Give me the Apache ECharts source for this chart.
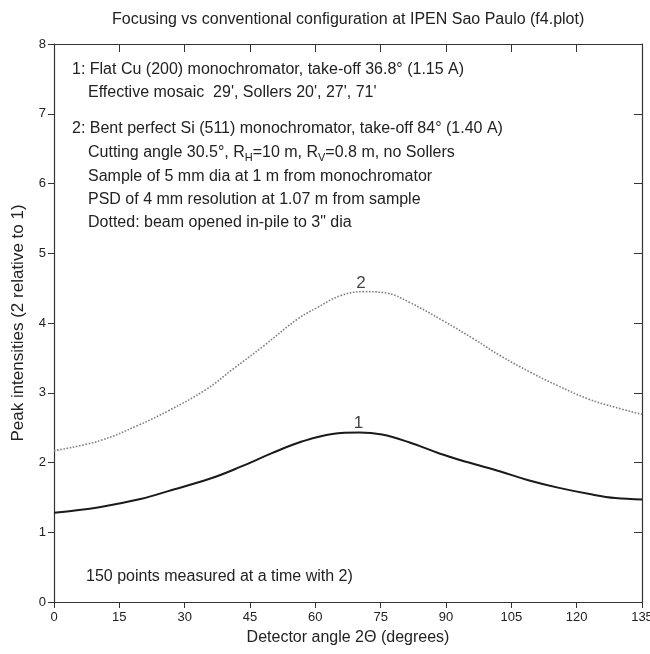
<!DOCTYPE html>
<html>
<head>
<meta charset="utf-8">
<script src="https://cdn.jsdelivr.net/npm/echarts@6/dist/echarts.min.js"></script>
<style>html,body{margin:0;padding:0;background:#fff}#c{width:650px;height:654px}</style>
</head>
<body>
<div id="c"></div>
<script>
// Curve 1: flat Cu (200), conventional (solid)
const angle1 = [0, 10.4, 20.1, 26.2, 35.9, 42.9, 49.9, 56.9, 63.9, 70.1, 75.3, 81.5, 88.5, 94.6, 102.5, 108.7, 115.7, 123.6, 128.9, 135];
const intensity1 = [1.28, 1.36, 1.48, 1.59, 1.77, 1.94, 2.13, 2.30, 2.41, 2.43, 2.40, 2.29, 2.13, 2.01, 1.87, 1.75, 1.64, 1.54, 1.49, 1.47];
// Curve 2: bent perfect Si (511), focusing (dotted)
const angle2 = [0, 10.4, 19.2, 26.2, 35.0, 41.1, 48.1, 56.0, 60.4, 65.7, 71.0, 76.3, 81.5, 89.4, 96.4, 102.5, 109.5, 115.7, 122.7, 128.9, 135];
const intensity2 = [2.17, 2.31, 2.53, 2.74, 3.05, 3.34, 3.67, 4.06, 4.22, 4.39, 4.45, 4.43, 4.30, 4.03, 3.77, 3.53, 3.29, 3.10, 2.91, 2.79, 2.69];
// Curve labels
const curveLabelText = ['1', '2'];
const curveLabelX = [69.9, 70.5];
const curveLabelY = [2.56, 4.57];
// Axis ticks
const xTicks = [0, 15, 30, 45, 60, 75, 90, 105, 120, 135];
const yTicks = [0, 1, 2, 3, 4, 5, 6, 7, 8];

const FONT = '"Liberation Sans Narrow", "Liberation Sans", Arial, sans-serif';
const TXT = '#222';
const pair = (xs, ys) => xs.map((x, i) => [x, ys[i]]);

const chart = echarts.init(document.getElementById('c'));
const gridL = 54, gridT = 44, gridR = 8, gridB = 52;

const noteLines = [
  {x: 72, y: 70, t: '1: Flat Cu (200) monochromator, take-off 36.8° (1.15 A)'},
  {x: 88, y: 93, t: "Effective mosaic  29', Sollers 20', 27', 71'"},
  {x: 72, y: 129, t: '2: Bent perfect Si (511) monochromator, take-off 84° (1.40 A)'},
  {x: 88, y: 153, t: 'Cutting angle 30.5°, R{s|H}=10 m, R{s|V}=0.8 m, no Sollers'},
  {x: 88, y: 177, t: 'Sample of 5 mm dia at 1 m from monochromator'},
  {x: 88, y: 200, t: 'PSD of 4 mm resolution at 1.07 m from sample'},
  {x: 88, y: 223, t: 'Dotted: beam opened in-pile to 3" dia'},
  {x: 86, y: 577, t: '150 points measured at a time with 2)'}
];

chart.setOption({
  backgroundColor: '#fff',
  animation: false,
  grid: {left: gridL, top: gridT, right: gridR, bottom: gridB, containLabel: false, outerBoundsMode: 'none'},
  xAxis: [{
    type: 'value', min: 0, max: 135, interval: 15,
    name: 'Detector angle 2\u0398 (degrees)', nameLocation: 'middle', nameGap: 28,
    nameTextStyle: {fontFamily: FONT, fontSize: 16, color: TXT},
    axisLine: {show: true, onZero: false, lineStyle: {color: '#333', width: 1.2}},
    axisTick: {show: true, inside: false, length: 6, lineStyle: {color: '#333'}},
    axisLabel: {fontFamily: FONT, fontSize: 13, color: TXT, margin: 9, hideOverlap: false},
    splitLine: {show: false}
  }, {
    type: 'value', position: 'top', min: 0, max: 135, interval: 15,
    axisLine: {show: true, onZero: false, lineStyle: {color: '#333', width: 1.2}},
    axisTick: {show: true, inside: true, length: 8, lineStyle: {color: '#333'}},
    axisLabel: {show: false}, splitLine: {show: false}
  }],
  yAxis: [{
    type: 'value', min: 0, max: 8, interval: 1,
    name: 'Peak intensities (2 relative to 1)', nameLocation: 'middle', nameGap: 27,
    nameTextStyle: {fontFamily: FONT, fontSize: 17, color: TXT},
    axisLine: {show: true, onZero: false, lineStyle: {color: '#333', width: 1.2}},
    axisTick: {show: true, inside: false, length: 6, lineStyle: {color: '#333'}},
    axisLabel: {fontFamily: FONT, fontSize: 13, color: TXT, margin: 8},
    splitLine: {show: false}
  }, {
    type: 'value', position: 'right', min: 0, max: 8, interval: 1,
    axisLine: {show: true, onZero: false, lineStyle: {color: '#333', width: 1.2}},
    axisTick: {show: true, inside: true, length: 8, lineStyle: {color: '#333'}},
    axisLabel: {show: false}, splitLine: {show: false}
  }],
  series: [{
    type: 'line', name: '1', data: pair(angle1, intensity1), smooth: 0.4,
    showSymbol: false, lineStyle: {color: '#1a1a1a', width: 2}
  }, {
    type: 'line', name: '2', data: pair(angle2, intensity2), smooth: 0.4,
    showSymbol: false, lineStyle: {color: '#808080', width: 1.6, type: 'dotted'}
  }, {
    type: 'scatter', data: curveLabelX.map((x, i) => ({value: [x, curveLabelY[i]], name: curveLabelText[i]})),
    symbolSize: 0, silent: true,
    label: {show: true, position: 'inside', formatter: p => p.name, fontFamily: FONT, fontSize: 17, color: '#111'}
  }],
  graphic: [{
    type: 'text', x: 112, y: 20,
    style: {text: 'Focusing vs conventional configuration at IPEN Sao Paulo (f4.plot)', font: '16px ' + FONT, fill: TXT, verticalAlign: 'middle'}
  }].concat(noteLines.map(n => ({
    type: 'text', x: n.x, y: n.y,
    style: {
      text: n.t, fill: TXT, font: '16px ' + FONT, verticalAlign: 'middle',
      rich: {s: {fontSize: 11, fontFamily: FONT, fill: TXT, padding: [9, 0, 0, 0]}}
    }
  })))
});
</script>
</body>
</html>
